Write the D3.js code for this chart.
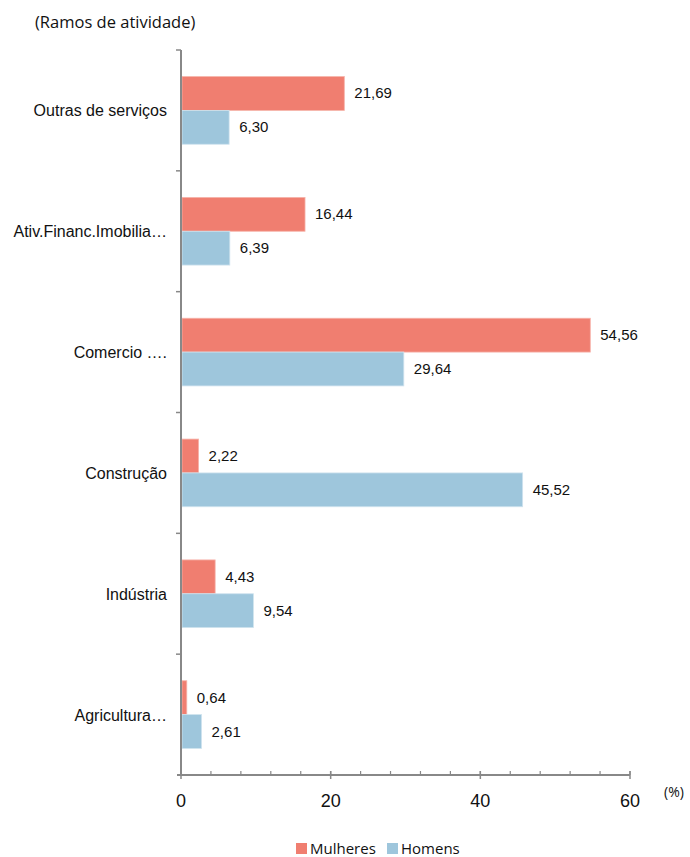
<!DOCTYPE html>
<html>
<head>
<meta charset="utf-8">
<script src="https://cdn.jsdelivr.net/npm/d3@7"></script>
<style>
body { margin: 0; background: #fff; }
text { fill: #111; }
</style>
</head>
<body>
<script>
// data
var categories = ['Outras de serviços', 'Ativ.Financ.Imobilia…', 'Comercio ….', 'Construção', 'Indústria', 'Agricultura…'];
var series = ['Mulheres', 'Homens'];
var mulheres = [21.69, 16.44, 54.56, 2.22, 4.43, 0.64];
var homens = [6.30, 6.39, 29.64, 45.52, 9.54, 2.61];
var xTicks = [0, 20, 40, 60];
var colors = ['#f07e70', '#9ec6dc'];

var width = 690;
var height = 857;

var svg = d3.select('body')
    .append('svg')
    .attr('width', width)
    .attr('height', height)

var pLeft = 181, pRight = 630, pTop = 50, pBottom = 775;

var xScale = d3.scaleLinear()
    .domain([0, 60])
    .range([pLeft, pRight])

var yScale = d3.scaleBand()
    .domain(categories)
    .range([pTop, pBottom])
    .paddingInner(0.44)
    .paddingOuter(0.22)

var sub = d3.scaleBand()
    .domain(series)
    .range([0, yScale.bandwidth()])

var rows = categories.map((c, i) => ({cat: c, vals: [mulheres[i], homens[i]]}))

// bars
var g = svg.selectAll('.row')
    .data(rows)
    .enter().append('g')
    .attr('class', 'row')
    .attr('transform', d => 'translate(0,' + yScale(d.cat) + ')')

g.selectAll('rect')
    .data(d => d.vals.map((v, j) => ({s: series[j], v: v, j: j})))
    .enter().append('rect')
    .attr('x', xScale(0) + 1)
    .attr('y', d => sub(d.s))
    .attr('width', d => xScale(d.v) - xScale(0))
    .attr('height', sub.bandwidth())
    .attr('fill', d => colors[d.j])
    .attr('stroke', d => d.j == 0 ? '#f6b3aa' : '#cfe3ee')
    .attr('stroke-width', 0.8)

g.selectAll('.val')
    .data(d => d.vals.map((v, j) => ({s: series[j], v: v})))
    .enter().append('text')
    .attr('class', 'val')
    .attr('x', d => xScale(d.v) + 11)
    .attr('y', d => sub(d.s) + sub.bandwidth() / 2 + 5)
    .style('font-family', 'Liberation Sans, Arial, sans-serif')
    .style('font-size', '15px')
    .text(d => d.v.toFixed(2).replace('.', ','))

// y axis
var yAxis = svg.append('g')
    .attr('transform', 'translate(' + pLeft + ',0)')
yAxis.append('line')
    .attr('y1', pTop).attr('y2', pBottom)
    .attr('stroke', '#888').attr('stroke-width', 2)
var bounds = categories.map(c => yScale(c) - yScale.step() * yScale.paddingInner() / 2)
yAxis.selectAll('.yt')
    .data(bounds)
    .enter().append('line')
    .attr('x1', -5).attr('x2', 0)
    .attr('y1', d => d).attr('y2', d => d)
    .attr('stroke', '#888').attr('stroke-width', 1.5)
svg.selectAll('.cat')
    .data(categories)
    .enter().append('text')
    .attr('class', 'cat')
    .attr('x', 167)
    .attr('y', d => yScale(d) + yScale.bandwidth() / 2 + 6)
    .attr('text-anchor', 'end')
    .style('font-family', 'Liberation Sans, Arial, sans-serif')
    .style('font-size', '16px')
    .text(d => d)

// x axis
var xAxis = svg.append('g')
    .attr('transform', 'translate(0,' + pBottom + ')')
xAxis.append('line')
    .attr('x1', pLeft - 4).attr('x2', pRight)
    .attr('stroke', '#888').attr('stroke-width', 2)
xAxis.selectAll('.minor')
    .data(d3.range(0, 61, 4))
    .enter().append('line')
    .attr('x1', d => xScale(d)).attr('x2', d => xScale(d))
    .attr('y1', -4).attr('y2', 0)
    .attr('stroke', '#888').attr('stroke-width', 1.2)
xAxis.selectAll('.major')
    .data(xTicks)
    .enter().append('line')
    .attr('x1', d => xScale(d)).attr('x2', d => xScale(d))
    .attr('y1', -4).attr('y2', 4)
    .attr('stroke', '#888').attr('stroke-width', 1.5)
xAxis.selectAll('.xl')
    .data(xTicks)
    .enter().append('text')
    .attr('x', d => xScale(d))
    .attr('y', 32)
    .attr('text-anchor', 'middle')
    .style('font-family', 'Liberation Sans, Arial, sans-serif')
    .style('font-size', '18px')
    .text(d => d)

svg.append('text')
    .text('(%)')
    .attr('x', 664)
    .attr('y', 797)
    .style('font-family', 'Open Sans, sans-serif')
    .style('font-size', '14px')

svg.append('text')
    .text('(Ramos de atividade)')
    .attr('x', 35)
    .attr('y', 28)
    .style('font-family', 'Open Sans, sans-serif')
    .style('font-size', '16.5px')

// legend
var leg = svg.selectAll('.leg')
    .data(series)
    .enter().append('g')
    .attr('transform', (d, i) => 'translate(' + (296 + i * 91) + ',843)')
leg.append('rect')
    .attr('width', 11).attr('height', 11)
    .attr('fill', (d, i) => colors[i])
leg.append('text')
    .attr('x', 14).attr('y', 10.5)
    .style('font-family', 'Open Sans, sans-serif')
    .style('font-size', '15px')
    .text(d => d)
</script>
</body>
</html>
